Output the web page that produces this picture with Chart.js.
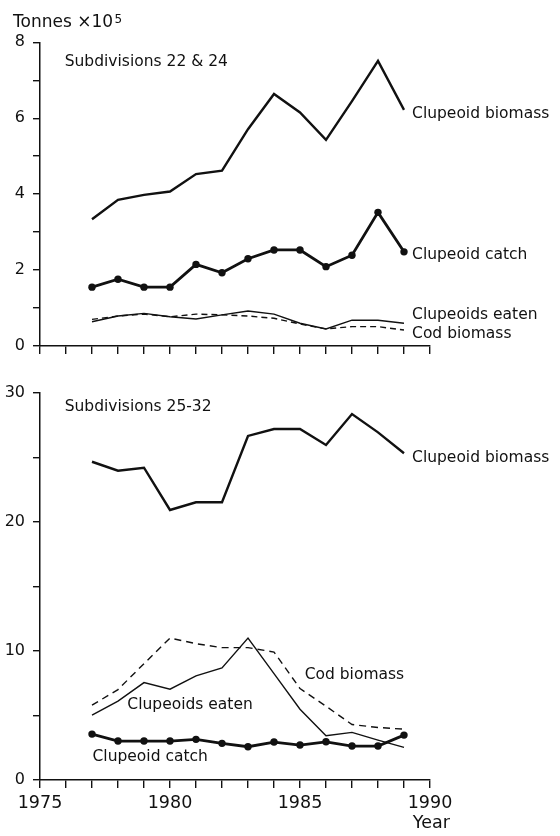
<!DOCTYPE html>
<html>
<head>
<meta charset="utf-8">
<script src="https://cdn.jsdelivr.net/npm/chart.js@4/dist/chart.umd.min.js"></script>
<style>
  html, body { margin: 0; padding: 0; background: #fff; }
  body { width: 560px; height: 836px; position: relative; overflow: hidden; }
  #top { position: absolute; left: 0; top: 0; }
  #bot { position: absolute; left: 0; top: 372px; }
</style>
</head>
<body>
<canvas id="top" width="560" height="372"></canvas>
<canvas id="bot" width="560" height="464"></canvas>
<script>
// ---------- data ----------
const years = [1977, 1978, 1979, 1980, 1981, 1982, 1983, 1984, 1985, 1986, 1987, 1988, 1989];

// Subdivisions 22 & 24 (tonnes x 10^5)
const top_clupeoidBiomass = [3.34, 3.85, 3.98, 4.07, 4.53, 4.62, 5.71, 6.64, 6.15, 5.43, 6.45, 7.51, 6.22];
const top_clupeoidCatch   = [1.55, 1.76, 1.55, 1.55, 2.15, 1.93, 2.30, 2.53, 2.53, 2.09, 2.39, 3.52, 2.48];
const top_clupeoidsEaten  = [0.64, 0.79, 0.86, 0.77, 0.71, 0.82, 0.92, 0.84, 0.60, 0.45, 0.68, 0.68, 0.60];
const top_codBiomass      = [0.70, 0.79, 0.84, 0.77, 0.84, 0.82, 0.79, 0.73, 0.58, 0.45, 0.51, 0.51, 0.42];

// Subdivisions 25-32 (tonnes x 10^5)
const bot_clupeoidBiomass = [24.67, 23.98, 24.21, 20.93, 21.53, 21.53, 26.67, 27.21, 27.21, 25.97, 28.37, 26.95, 25.33];
const bot_clupeoidCatch   = [3.56, 3.02, 3.02, 3.02, 3.15, 2.84, 2.58, 2.94, 2.71, 2.96, 2.63, 2.63, 3.48];
const bot_clupeoidsEaten  = [5.03, 6.11, 7.55, 7.04, 8.07, 8.69, 11.0, 8.25, 5.49, 3.43, 3.69, 3.09, 2.53];
const bot_codBiomass      = [5.80, 7.01, 9.02, 11.0, 10.57, 10.26, 10.26, 9.92, 7.09, 5.72, 4.30, 4.07, 3.94];

// axis ticks
const xMin = 1975, xMax = 1990;
const xTickLabels = [1975, 1980, 1985, 1990];
const topYTickLabels = [0, 2, 4, 6, 8];
const botYTickLabels = [0, 10, 20, 30];

// ---------- helpers ----------
const FONT = '"DejaVu Sans", "Liberation Sans", Arial, sans-serif';
const INK = '#111';
const pts = (vals) => years.map((yr, i) => ({ x: yr, y: vals[i] }));

const textPlugin = {
  id: 'panelText',
  afterDraw(chart, args, opts) {
    const { ctx, chartArea } = chart;
    const xs = chart.scales.x, ys = chart.scales.y;
    ctx.save();
    ctx.fillStyle = INK;
    for (const l of (opts.labels || [])) {
      ctx.font = (l.size || 15.5) + 'px ' + FONT;
      ctx.textAlign = l.align || 'left';
      ctx.textBaseline = 'middle';
      const px = xs.getPixelForValue(l.x);
      const py = (l.y !== undefined) ? ys.getPixelForValue(l.y) : chartArea.bottom + l.dy;
      ctx.fillText(l.text, px, py);
    }
    if (opts.unit) {
      ctx.textAlign = 'left';
      ctx.textBaseline = 'alphabetic';
      ctx.font = '17px ' + FONT;
      const bx = chartArea.left - 27, by = chartArea.top - 15.5;
      ctx.fillText(opts.unit, bx, by);
      const w = ctx.measureText(opts.unit).width;
      ctx.font = '12px ' + FONT;
      ctx.fillText(opts.unitSup, bx + w + 1.5, by - 4);
    }
    ctx.restore();
  }
};

function lineDS(data, opt) {
  return Object.assign({
    data: pts(data),
    borderColor: INK,
    backgroundColor: INK,
    borderWidth: 1.3,
    pointRadius: 0,
    tension: 0,
    fill: false
  }, opt);
}

function makeScales(yMax, yStep, yLabels, showXLabels, xHeight) {
  return {
    x: {
      type: 'linear',
      min: xMin, max: xMax,
      afterBuildTicks: (s) => { s.ticks = []; for (let v = xMin; v <= xMax; v++) s.ticks.push({ value: v }); },
      ticks: {
        autoSkip: false,
        maxRotation: 0,
        padding: 5,
        color: INK,
        font: { family: FONT, size: 17.5 },
        callback: (v) => (showXLabels && xTickLabels.includes(v)) ? String(v) : ''
      },
      grid: { drawOnChartArea: false, drawTicks: true, tickLength: 8, color: INK, lineWidth: 1.4 },
      border: { display: true, color: INK, width: 1.5 },
      afterFit: (s) => { s.height = xHeight; }
    },
    y: {
      type: 'linear',
      min: 0, max: yMax,
      afterBuildTicks: (s) => { s.ticks = []; for (let v = 0; v <= yMax; v += yStep) s.ticks.push({ value: v }); },
      ticks: {
        autoSkip: false,
        padding: 8,
        color: INK,
        font: { family: FONT, size: 16 },
        callback: (v) => yLabels.includes(v) ? String(v) : ''
      },
      grid: { drawOnChartArea: false, drawTicks: true, tickLength: 7, color: INK, lineWidth: 1.4 },
      border: { display: true, color: INK, width: 1.5 },
      afterFit: (s) => { s.width = 40; }
    }
  };
}

// ---------- top panel ----------
new Chart(document.getElementById('top'), {
  type: 'line',
  data: {
    datasets: [
      lineDS(top_clupeoidBiomass, { label: 'Clupeoid biomass', borderWidth: 2.4 }),
      lineDS(top_clupeoidCatch, { label: 'Clupeoid catch', borderWidth: 2.8, pointRadius: 3.7, pointBorderWidth: 0 }),
      lineDS(top_clupeoidsEaten, { label: 'Clupeoids eaten', borderWidth: 1.4 }),
      lineDS(top_codBiomass, { label: 'Cod biomass', borderWidth: 1.4, borderDash: [6, 4] })
    ]
  },
  options: {
    responsive: false,
    animation: false,
    events: [],
    layout: { padding: { left: 0, right: 130, top: 42.3, bottom: 14 } },
    scales: makeScales(8, 1, topYTickLabels, false, 12),
    plugins: {
      legend: { display: false },
      tooltip: { enabled: false },
      panelText: {
        unit: 'Tonnes \u00d710',
        unitSup: '5',
        labels: [
          { text: 'Subdivisions 22 & 24', x: 1975.95, y: 7.47 },
          { text: 'Clupeoid biomass', x: 1989.31, y: 6.11 },
          { text: 'Clupeoid catch', x: 1989.31, y: 2.40 },
          { text: 'Clupeoids eaten', x: 1989.31, y: 0.82 },
          { text: 'Cod biomass', x: 1989.31, y: 0.33 }
        ]
      }
    }
  },
  plugins: [textPlugin]
});

// ---------- bottom panel ----------
new Chart(document.getElementById('bot'), {
  type: 'line',
  data: {
    datasets: [
      lineDS(bot_clupeoidBiomass, { label: 'Clupeoid biomass', borderWidth: 2.4 }),
      lineDS(bot_clupeoidCatch, { label: 'Clupeoid catch', borderWidth: 2.8, pointRadius: 3.7, pointBorderWidth: 0 }),
      lineDS(bot_clupeoidsEaten, { label: 'Clupeoids eaten', borderWidth: 1.4 }),
      lineDS(bot_codBiomass, { label: 'Cod biomass', borderWidth: 1.4, borderDash: [7, 5] })
    ]
  },
  options: {
    responsive: false,
    animation: false,
    events: [],
    layout: { padding: { left: 0, right: 130, top: 21, bottom: 16 } },
    scales: makeScales(30, 5, botYTickLabels, true, 40),
    plugins: {
      legend: { display: false },
      tooltip: { enabled: false },
      panelText: {
        labels: [
          { text: 'Subdivisions 25-32', x: 1975.95, y: 28.9 },
          { text: 'Clupeoid biomass', x: 1989.31, y: 24.94 },
          { text: 'Cod biomass', x: 1985.18, y: 8.16 },
          { text: 'Clupeoids eaten', x: 1978.36, y: 5.83 },
          { text: 'Clupeoid catch', x: 1977.02, y: 1.81 },
          { text: 'Year', x: 1990.05, dy: 43.5, align: 'center', size: 17.5 }
        ]
      }
    }
  },
  plugins: [textPlugin]
});
</script>
</body>
</html>
